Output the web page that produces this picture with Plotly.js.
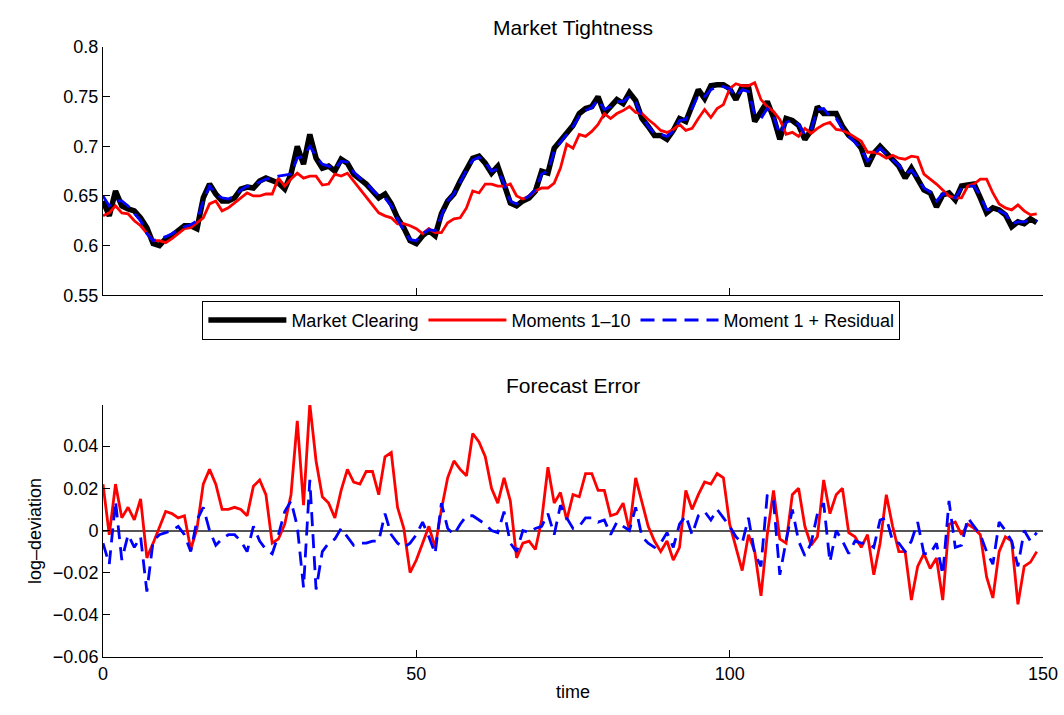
<!DOCTYPE html>
<html>
<head>
<meta charset="utf-8">
<script src="https://cdn.plot.ly/plotly-3.0.1.min.js"></script>
<style>body{margin:0;background:#fff}</style>
</head>
<body>
<div id="plot" style="width:1064px;height:715px"></div>
<script>
// market tightness, t = 0..150
var clearing = [0.645,0.63,0.655,0.64,0.637,0.635,0.628,0.618,0.602,0.6,0.607,0.61,0.615,0.62,0.62,0.617,0.648,0.662,0.652,0.645,
0.645,0.648,0.657,0.659,0.658,0.665,0.668,0.665,0.663,0.657,0.672,0.7,0.682,0.712,0.688,0.678,0.68,0.675,0.687,0.683,
0.672,0.667,0.662,0.655,0.648,0.652,0.642,0.628,0.618,0.605,0.602,0.61,0.615,0.61,0.632,0.645,0.652,0.665,0.678,0.688,
0.69,0.683,0.673,0.68,0.662,0.643,0.64,0.645,0.648,0.655,0.675,0.673,0.698,0.705,0.713,0.721,0.733,0.738,0.74,0.75,
0.733,0.741,0.747,0.743,0.754,0.746,0.728,0.72,0.711,0.711,0.707,0.716,0.728,0.725,0.741,0.757,0.748,0.761,0.762,0.762,
0.758,0.747,0.76,0.76,0.725,0.736,0.745,0.729,0.707,0.728,0.726,0.721,0.707,0.716,0.74,0.733,0.733,0.733,0.72,0.711,
0.706,0.698,0.68,0.693,0.7,0.693,0.685,0.68,0.668,0.678,0.667,0.656,0.653,0.639,0.651,0.653,0.646,0.66,0.661,0.662,
0.648,0.633,0.638,0.636,0.631,0.619,0.624,0.622,0.627,0.623];
var moments10 = [0.63,0.633,0.64,0.633,0.632,0.625,0.62,0.612,0.605,0.605,0.603,0.607,0.612,0.617,0.618,0.623,0.628,0.642,0.645,0.635,
0.638,0.643,0.648,0.653,0.65,0.65,0.652,0.652,0.668,0.66,0.667,0.673,0.668,0.67,0.67,0.661,0.662,0.672,0.67,0.673,
0.665,0.657,0.648,0.64,0.633,0.63,0.628,0.622,0.622,0.62,0.617,0.612,0.617,0.613,0.613,0.623,0.627,0.628,0.638,0.655,
0.653,0.662,0.662,0.66,0.66,0.662,0.65,0.647,0.65,0.655,0.658,0.658,0.663,0.678,0.702,0.698,0.712,0.71,0.715,0.722,
0.733,0.728,0.733,0.736,0.74,0.734,0.733,0.727,0.722,0.716,0.714,0.717,0.722,0.716,0.718,0.728,0.737,0.729,0.738,0.742,
0.758,0.763,0.761,0.761,0.764,0.747,0.74,0.735,0.727,0.712,0.714,0.71,0.718,0.713,0.718,0.722,0.724,0.717,0.716,0.713,
0.709,0.705,0.694,0.694,0.692,0.688,0.691,0.688,0.687,0.69,0.689,0.672,0.667,0.662,0.656,0.65,0.648,0.648,0.66,0.662,
0.667,0.667,0.653,0.642,0.638,0.636,0.641,0.635,0.631,0.632,0.63];
var residual = [0.65,0.64,0.645,0.645,0.64,0.632,0.625,0.612,0.605,0.607,0.609,0.612,0.616,0.619,0.621,0.625,0.645,0.66,0.652,0.648,
0.647,0.65,0.656,0.66,0.66,0.664,0.667,0.668,0.67,0.671,0.672,0.688,0.69,0.7,0.69,0.682,0.68,0.677,0.685,0.684,
0.674,0.668,0.663,0.656,0.65,0.648,0.64,0.627,0.615,0.606,0.605,0.612,0.616,0.615,0.63,0.645,0.652,0.664,0.676,0.686,
0.689,0.684,0.675,0.677,0.662,0.645,0.642,0.646,0.65,0.656,0.672,0.675,0.695,0.704,0.712,0.72,0.73,0.736,0.739,0.747,
0.737,0.74,0.745,0.745,0.75,0.744,0.73,0.72,0.713,0.712,0.71,0.715,0.726,0.727,0.738,0.752,0.75,0.757,0.76,0.76,
0.758,0.75,0.757,0.755,0.732,0.728,0.738,0.73,0.712,0.724,0.727,0.722,0.712,0.717,0.737,0.738,0.73,0.728,0.718,0.71,
0.704,0.697,0.685,0.692,0.698,0.692,0.686,0.681,0.672,0.676,0.668,0.658,0.654,0.645,0.652,0.652,0.648,0.658,0.66,0.66,
0.65,0.636,0.637,0.635,0.632,0.622,0.624,0.624,0.626,0.625];
// forecast error (log-deviation)
var errMoments10 = [0.022,-0.002,0.022,0.006,0.011,0.005,0.015,-0.013,-0.006,0.002,0.009,0.008,0.006,0.007,-0.009,0.001,0.022,0.029,0.022,0.01,
0.01,0.011,0.01,0.007,0.021,0.024,0.017,-0.006,-0.004,0.003,0.017,0.052,0.012,0.06,0.033,0.016,0.013,0.006,0.019,0.029,
0.023,0.022,0.028,0.028,0.017,0.035,0.037,0.011,0.001,-0.02,-0.014,-0.006,0.002,-0.008,0.01,0.025,0.033,0.029,0.026,0.046,
0.042,0.035,0.02,0.013,0.025,0.014,-0.013,-0.006,-0.005,-0.009,0.005,0.03,0.013,0.018,0.005,0.017,0.016,0.027,0.027,0.019,
0.019,0.007,0.008,0.013,0.0,0.025,0.014,0.002,-0.005,-0.01,-0.005,-0.014,-0.008,0.019,0.01,0.017,0.023,0.022,0.027,0.025,
0.003,-0.008,-0.019,-0.002,-0.01,-0.031,-0.002,0.019,-0.004,-0.006,0.017,0.02,0.002,-0.007,-0.003,0.024,0.008,0.017,0.02,-0.001,
-0.003,-0.008,-0.002,-0.021,-0.006,0.017,0.002,-0.01,-0.01,-0.033,-0.017,-0.011,-0.018,-0.013,-0.033,0.003,0.004,-0.002,0.003,0.001,
-0.002,-0.022,-0.032,-0.01,-0.003,-0.005,-0.035,-0.017,-0.015,-0.01,-0.011];
var errResidual = [-0.006,-0.016,0.014,-0.014,-0.002,-0.008,-0.003,-0.029,-0.005,-0.002,-0.001,0.0,0.002,-0.002,-0.01,0.005,0.011,0.0,-0.007,-0.004,
-0.002,-0.002,-0.005,-0.01,0.002,-0.005,-0.009,-0.011,-0.002,0.009,0.014,0.002,-0.027,0.024,-0.028,-0.01,-0.006,-0.004,0.001,-0.003,
-0.007,-0.006,-0.006,-0.005,-0.005,0.008,-0.002,-0.006,-0.008,-0.006,-0.002,0.004,-0.003,-0.011,0.013,0.001,-0.002,0.003,0.007,0.007,
0.005,0.003,0.0,-0.001,0.009,-0.006,-0.01,0.0,-0.001,0.001,0.002,0.008,-0.002,0.012,0.006,0.001,0.002,0.006,0.006,0.004,
0.005,-0.002,0.004,0.002,0.0,0.011,-0.003,-0.006,-0.008,-0.006,-0.001,-0.008,0.003,0.007,-0.002,0.007,0.009,0.005,0.01,0.006,
0.002,-0.003,-0.006,0.006,-0.011,-0.017,0.017,0.014,-0.021,-0.005,0.01,-0.005,-0.012,-0.006,0.008,0.013,-0.015,0.0,-0.005,-0.011,
-0.005,-0.006,-0.006,-0.008,0.005,0.006,-0.005,-0.006,-0.01,-0.005,0.004,-0.011,-0.011,-0.006,-0.021,0.014,-0.008,-0.007,0.006,0.002,
-0.002,-0.01,-0.016,0.004,0.0,-0.005,-0.017,0.0,-0.005,-0.001,-0.006];

var time = clearing.map(function(v, i){ return i; });
var font = {family: 'Liberation Sans, Arial, sans-serif', size: 18, color: '#000'};
var dashStyle = '14px,8px';

var traces = [
    {x: time, y: clearing, type: 'scatter', mode: 'lines', name: 'Market Clearing',
     line: {color: '#000', width: 5.5}, xaxis: 'x', yaxis: 'y'},
    {x: time, y: moments10, type: 'scatter', mode: 'lines', name: 'Moments 1\u201310',
     line: {color: '#ff0000', width: 2.8}, xaxis: 'x', yaxis: 'y'},
    {x: time, y: residual, type: 'scatter', mode: 'lines', name: 'Moment 1 + Residual',
     line: {color: '#0000ff', width: 2.8, dash: dashStyle}, xaxis: 'x', yaxis: 'y'},
    {x: time, y: errMoments10, type: 'scatter', mode: 'lines', showlegend: false,
     line: {color: '#ff0000', width: 2.8}, xaxis: 'x2', yaxis: 'y2'},
    {x: time, y: errResidual, type: 'scatter', mode: 'lines', showlegend: false,
     line: {color: '#0000ff', width: 2.8, dash: dashStyle}, xaxis: 'x2', yaxis: 'y2'}
];

var axisBase = {showgrid: false, showline: true, linecolor: '#000', linewidth: 1,
    ticks: 'inside', ticklen: 7, tickcolor: '#000', zeroline: false, tickfont: font};

var layout = {
    width: 1064, height: 715,
    paper_bgcolor: '#fff', plot_bgcolor: '#fff',
    margin: {l: 103, r: 21, t: 47, b: 58},
    font: font,
    showlegend: true,
    legend: {orientation: 'h', x: 0.477, y: 0.552, xanchor: 'center', yanchor: 'middle',
        bordercolor: '#000', borderwidth: 1, bgcolor: '#fff', font: {family: font.family, size: 18},
        tracegroupgap: 0, itemwidth: 78},
    xaxis: Object.assign({}, axisBase, {domain: [0, 1], range: [0, 150], tickvals: [0, 50, 100, 150],
        showticklabels: false, anchor: 'y'}),
    yaxis: Object.assign({}, axisBase, {domain: [0.593, 1], range: [0.55, 0.8], dtick: 0.05, anchor: 'x'}),
    xaxis2: Object.assign({}, axisBase, {domain: [0, 1], range: [0, 150], tickvals: [0, 50, 100, 150],
        anchor: 'y2', title: {text: 'time', font: font, standoff: 2}}),
    yaxis2: Object.assign({}, axisBase, {domain: [0, 0.413], range: [-0.06, 0.0595], dtick: 0.02,
        anchor: 'x2', zeroline: true, zerolinecolor: '#555', zerolinewidth: 1.5,
        title: {text: 'log\u2013deviation', font: font, standoff: 6}}),
    annotations: [
        {text: 'Market Tightness', xref: 'paper', yref: 'paper', x: 0.5, y: 1, yanchor: 'bottom',
         yshift: 6, showarrow: false, font: {family: font.family, size: 21}},
        {text: 'Forecast Error', xref: 'paper', yref: 'paper', x: 0.5, y: 0.413, yanchor: 'bottom',
         yshift: 6, showarrow: false, font: {family: font.family, size: 21}}
    ]
};

Plotly.newPlot('plot', traces, layout, {displayModeBar: false});
</script>
</body>
</html>
